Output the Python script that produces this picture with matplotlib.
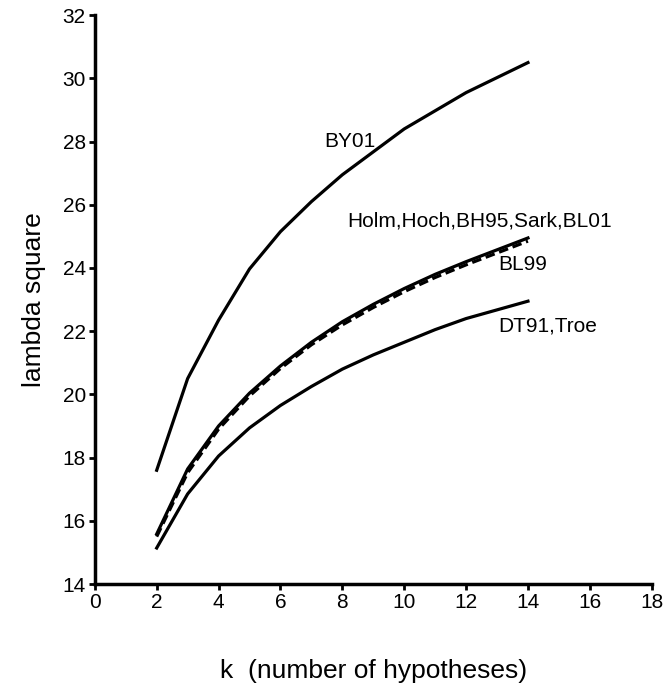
import matplotlib
matplotlib.use("Agg")
import matplotlib.pyplot as plt

plt.rcParams['font.family'] = ['Liberation Sans', 'DejaVu Sans']

# Data
k_by = [2, 3, 4, 5, 6, 7, 8, 10, 12, 14]
by01 = [17.6, 20.5, 22.35, 23.97, 25.15, 26.1, 26.95, 28.4, 29.55, 30.5]

k = [2, 3, 4, 5, 6, 7, 8, 9, 10, 11, 12, 14]
holm = [15.58, 17.64, 19.0, 20.04, 20.9, 21.65, 22.3, 22.85, 23.35, 23.8, 24.2, 24.95]
bl99 = [15.5, 17.52, 18.9, 19.95, 20.82, 21.57, 22.2, 22.75, 23.25, 23.7, 24.1, 24.85]
dt91 = [15.14, 16.85, 18.05, 18.94, 19.65, 20.25, 20.8, 21.25, 21.65, 22.05, 22.4, 22.95]

fig = plt.figure(figsize=(6.63, 6.9), dpi=100)
ax = fig.add_axes([0.143, 0.1536, 0.840, 0.8244])

ax.plot(k_by, by01, color='black', linewidth=2.3)
ax.plot(k, holm, color='black', linewidth=2.3)
ax.plot(k, bl99, color='black', linewidth=2.3, linestyle=(0, (3, 1.5)))
ax.plot(k, dt91, color='black', linewidth=2.3)

ax.text(7.4, 28.0, 'BY01', fontsize=15, ha='left', va='center')
ax.text(8.15, 25.5, 'Holm,Hoch,BH95,Sark,BL01', fontsize=15, ha='left', va='center')
ax.text(13.05, 24.1, 'BL99', fontsize=15, ha='left', va='center')
ax.text(13.05, 22.15, 'DT91,Troe', fontsize=15, ha='left', va='center')

ax.set_xlim(0, 18)
ax.set_ylim(14, 32)
ax.set_xticks(range(0, 19, 2))
ax.set_yticks(range(14, 33, 2))
ax.spines['top'].set_visible(False)
ax.spines['right'].set_visible(False)
ax.spines['left'].set_linewidth(2.5)
ax.spines['bottom'].set_linewidth(2.5)
ax.tick_params(width=2, length=4.5, pad=2, labelsize=15)

ax.set_xlabel('k  (number of hypotheses)', fontsize=19, labelpad=34)
ax.set_ylabel('lambda square', fontsize=19, labelpad=12)

fig.savefig('out.png', dpi=100)
